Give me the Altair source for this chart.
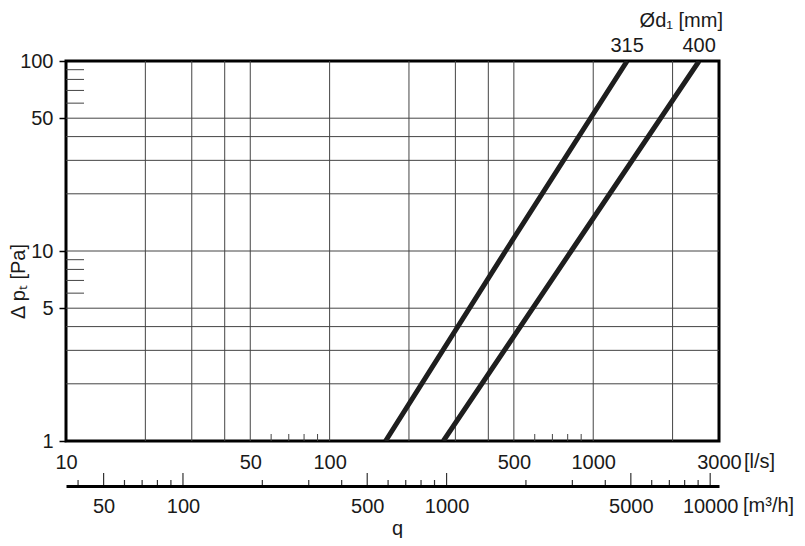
import altair as alt
import pandas as pd

W, H = 653, 380
FONT = "Liberation Sans"
FS = 20
INK = "#1a1a1a"

# ---- data ----
curve_names = ["315", "315", "315", "400", "400", "400"]
curve_q = [163, 465, 1345, 270, 825, 2521]        # l/s
curve_dp = [1, 10, 100, 1, 10, 100]               # Pa

ls_labels = [10, 50, 100, 500, 1000, 3000]
dp_labels = [1, 5, 10, 50, 100]
xgrid = [20, 30, 40, 50, 100, 200, 300, 400, 500, 1000, 2000]
ygrid = [2, 3, 4, 5, 10, 20, 30, 40, 50]
yminor = [6, 7, 8, 9, 60, 70, 80, 90]
xminor = [60, 70, 80, 90, 600, 700, 800, 900]
m3h_major = [50, 100, 500, 1000, 5000, 10000]
m3h_minor = [40, 60, 70, 80, 90, 200, 300, 400, 600, 700, 800, 900,
             2000, 3000, 4000, 6000, 7000, 8000, 9000]
q_min, q_max = 10, 3000
dp_min, dp_max = 1, 100

curves = pd.DataFrame({"d": curve_names, "q": curve_q, "dp": curve_dp})
tops = curves[curves["dp"] == dp_max]

xs = alt.Scale(type="log", domain=[q_min, q_max], nice=False)
ys = alt.Scale(type="log", domain=[dp_min, dp_max], nice=False)

x_axis = alt.Axis(values=ls_labels, format="d", grid=False, ticks=False, tickSize=0,
                  domain=False, labelFlush=False, labelPadding=11, title=None)
y_axis = alt.Axis(values=dp_labels, format="d", grid=False, domain=False,
                  ticks=True, tickSize=7, tickColor="black", tickWidth=1.5,
                  labelPadding=6, title="Δ pₜ [Pa]", titleX=-38, titleY=220,
                  titleAngle=270)


def X(field):
    return alt.X(field, type="quantitative", scale=xs, axis=x_axis)


def Y(field):
    return alt.Y(field, type="quantitative", scale=ys, axis=y_axis)


vgrid = alt.Chart(pd.DataFrame({"q": xgrid})).mark_rule(color="#444", strokeWidth=1).encode(
    x=X("q"), y=alt.value(0), y2=alt.value(H))
hgrid = alt.Chart(pd.DataFrame({"dp": ygrid})).mark_rule(color="#444", strokeWidth=1).encode(
    y=Y("dp"), x=alt.value(0), x2=alt.value(W))
ymin = alt.Chart(pd.DataFrame({"dp": yminor})).mark_rule(color="#444", strokeWidth=1).encode(
    y=Y("dp"), x=alt.value(0), x2=alt.value(18))
xmin = alt.Chart(pd.DataFrame({"q": xminor})).mark_rule(color="#444", strokeWidth=1).encode(
    x=X("q"), y=alt.value(H), y2=alt.value(H - 7))

lines = alt.Chart(curves).mark_line(color="#1e1e1e", strokeWidth=5, clip=True).encode(
    x=X("q"), y=Y("dp"), detail="d:N")

top_labels = alt.Chart(tops).mark_text(font=FONT, fontSize=FS, color=INK, baseline="middle").encode(
    x=X("q"), y=alt.value(-15.3), text="d:N")

diam_title = alt.Chart(pd.DataFrame({"q": [q_max], "t": ["Ød₁ [mm]"]})).mark_text(
    font=FONT, fontSize=FS, color=INK, align="right", baseline="middle", dx=4).encode(
    x=X("q"), y=alt.value(-40), text="t:N")

ls_unit = alt.Chart(pd.DataFrame({"q": [q_max], "t": ["[l/s]"]})).mark_text(
    font=FONT, fontSize=FS, color=INK, align="left", baseline="top", dx=25).encode(
    x=X("q"), y=alt.value(H + 11), text="t:N")

m3h_unit = alt.Chart(pd.DataFrame({"q": [q_max], "t": ["[m³/h]"]})).mark_text(
    font=FONT, fontSize=FS, color=INK, align="left", baseline="top", dx=24).encode(
    x=X("q"), y=alt.value(H + 55), text="t:N")

main = alt.layer(vgrid, hgrid, ymin, xmin, lines, top_labels, diam_title, ls_unit, m3h_unit)

# second q axis in m3/h
OFF = 45
ms = alt.Scale(type="log", domain=[q_min * 3.6, q_max * 3.6], nice=False)
m_axis = alt.Axis(values=m3h_major, format="d", orient="bottom", offset=OFF,
                  domain=True, domainColor="black", domainWidth=3, ticks=False,
                  labelFlush=False, labelPadding=10, grid=False,
                  title="q", titleX=331, titleY=32, titleBaseline="top")

m_major = alt.Chart(pd.DataFrame({"v": m3h_major})).mark_rule(color="#333", strokeWidth=1.2).encode(
    x=alt.X("v:Q", scale=ms, axis=m_axis), y=alt.value(H + OFF - 1), y2=alt.value(H + OFF - 13))
m_minor = alt.Chart(pd.DataFrame({"v": m3h_minor})).mark_rule(color="#333", strokeWidth=1.2).encode(
    x=alt.X("v:Q", scale=ms, axis=m_axis), y=alt.value(H + OFF - 1), y2=alt.value(H + OFF - 6))
second = alt.layer(m_major, m_minor)

chart = alt.layer(main, second).resolve_scale(x="independent").properties(
    width=W, height=H,
    autosize=alt.AutoSizeParams(type="none"),
    padding={"left": 58, "top": 53, "right": 78, "bottom": 97},
).configure_view(stroke="black", strokeWidth=3).configure_axis(
    labelFont=FONT, labelFontSize=FS, labelColor=INK,
    titleFont=FONT, titleFontSize=FS, titleColor=INK, titleFontWeight="normal",
)

chart.save("out.html", embed_options={"renderer": "svg", "actions": False})
